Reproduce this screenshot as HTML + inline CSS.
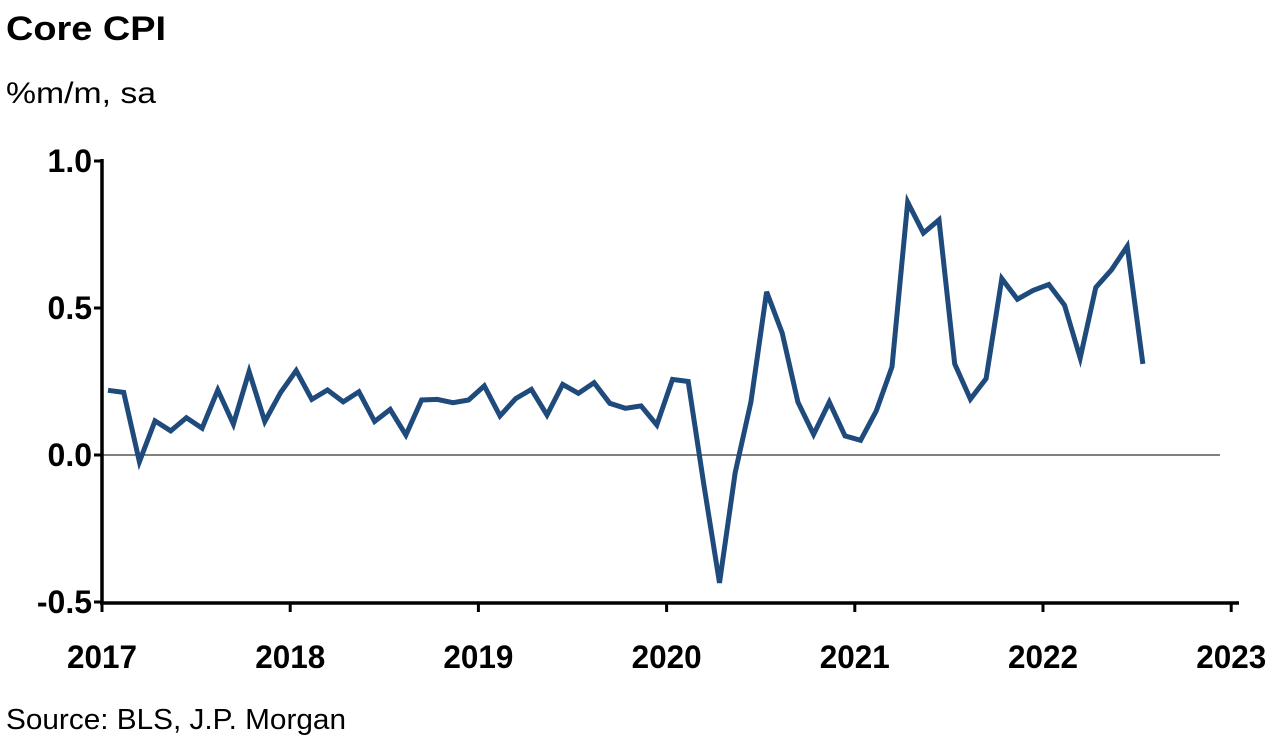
<!DOCTYPE html>
<html><head><meta charset="utf-8"><style>body{margin:0;background:#fff}svg{display:block}</style></head>
<body>
<svg id="chart" width="1272" height="736" xmlns="http://www.w3.org/2000/svg" font-family="Liberation Sans, Arial, sans-serif">
<text x="6" y="40" font-size="34" font-weight="bold" textLength="160" lengthAdjust="spacingAndGlyphs">Core CPI</text>
<text x="6" y="103" font-size="30" textLength="150" lengthAdjust="spacingAndGlyphs">%m/m, sa</text>
<text x="6" y="729" font-size="29" textLength="340" lengthAdjust="spacingAndGlyphs">Source: BLS, J.P. Morgan</text>
<g id="axes"></g>
<path id="line" fill="none" stroke="#1f4a7c" stroke-width="5" stroke-linejoin="miter"/>
</svg>
<script>
const values = [0.22,0.213,-0.023,0.116,0.082,0.127,0.091,0.221,0.105,0.284,0.114,0.212,
0.287,0.189,0.221,0.181,0.215,0.114,0.155,0.068,0.187,0.189,0.178,0.187,
0.235,0.133,0.192,0.223,0.136,0.24,0.21,0.246,0.176,0.159,0.167,0.102,
0.257,0.25,-0.1,-0.435,-0.06,0.18,0.555,0.415,0.18,0.07,0.18,0.065,
0.05,0.15,0.3,0.86,0.755,0.80,0.31,0.19,0.26,0.6,0.53,0.56,
0.58,0.51,0.33,0.57,0.63,0.71,0.31];
const yTicks = ["1.0","0.5","0.0","-0.5"];
const yTickVals = [1.0,0.5,0.0,-0.5];
const xTicks = ["2017","2018","2019","2020","2021","2022","2023"];
const NS="http://www.w3.org/2000/svg";
function yS(v){return 455 - v*294;}
function xS(i){return 108 + i*15.68;}
function xYear(k){return 102 + k*188.2;}
const g=document.getElementById('axes');
function mk(tag,attrs){const e=document.createElementNS(NS,tag);for(const k in attrs)e.setAttribute(k,attrs[k]);g.appendChild(e);return e;}
let e=mk('line',{x1:102,y1:455,x2:1220,y2:455,stroke:'#000','stroke-width':1});


e=mk('line',{x1:102,y1:159,x2:102,y2:604,stroke:'#000','stroke-width':3.5});


e=mk('line',{x1:100,y1:603,x2:1239,y2:603,stroke:'#000','stroke-width':3.5});


yTickVals.forEach((v,i)=>{
  const y=yS(v);
  let t=mk('line',{x1:94,y1:y,x2:102,y2:y,stroke:'#000','stroke-width':3});
  
  
  let l=mk('text',{x:92,y:y+11,'text-anchor':'end','font-size':32,'font-weight':'bold'});
  l.textContent=yTicks[i];
  
  
});
xTicks.forEach((s,k)=>{
  const x=xYear(k);
  let t=mk('line',{x1:x,y1:603,x2:x,y2:612,stroke:'#000','stroke-width':3});
  
  
  let l=mk('text',{x:x,y:668,'text-anchor':'middle','font-size':32,'font-weight':'bold',textLength:70,lengthAdjust:'spacingAndGlyphs'});
  l.textContent=s;
  
  
});
document.getElementById('line').setAttribute('d',values.map((v,i)=>(i?'L':'M')+xS(i).toFixed(1)+','+yS(v).toFixed(1)).join(''));
</script>
</body></html>
